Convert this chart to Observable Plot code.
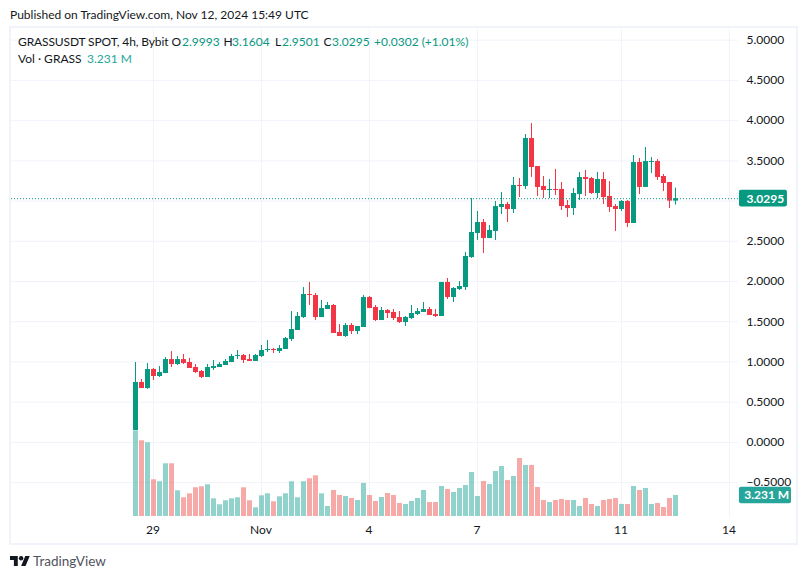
<!DOCTYPE html>
<html>
<head>
<meta charset="utf-8">
<script src="https://cdn.jsdelivr.net/npm/d3@7"></script>
<script src="https://cdn.jsdelivr.net/npm/@observablehq/plot@0.6"></script>
<style>
html,body{margin:0;padding:0;background:#fff;}
#page{position:relative;width:808px;height:579px;overflow:hidden;font-family:"Lato",sans-serif;color:#131722;font-size:12px;}
#pub{position:absolute;left:10px;top:6px;line-height:17px;}
#chart{position:absolute;left:0;top:27px;}
#frame{position:absolute;left:9px;top:26px;width:785px;height:515px;border:2px solid #f0f3fa;}
.lg{position:absolute;white-space:pre;line-height:16px;}
#foot{position:absolute;left:33px;top:552px;font-size:13.5px;line-height:19px;color:#50535e;}
#logo{position:absolute;left:10px;top:556px;}
</style>
</head>
<body>
<div id="page">
<div id="pub"></div>
<div id="frame"></div>
<div id="chart"></div>
<div id="legend"></div>
<svg id="logo" width="20" height="10" viewBox="0 4 36 18"><path fill="#131722" d="M14 22H7V11H0V4h14v18zM28 22h-8l7.5-18h8L28 22z"/><circle fill="#131722" cx="20" cy="8" r="4"/></svg>
<div id="foot">TradingView</div>
</div>
<script>
const opens = [.148,.745,.670,.906,.819,.856,1.030,.968,1.030,.993,.931,.881,.807,.919,.931,.956,.993,1.068,1.080,1.030,1.006,1.068,1.142,1.155,1.130,1.155,1.279,1.391,1.552,1.838,1.826,1.552,1.652,1.702,1.366,1.316,1.453,1.378,1.428,1.801,1.677,1.515,1.639,1.615,1.552,1.490,1.540,1.590,1.615,1.652,1.590,1.565,1.988,1.801,1.901,1.925,2.298,2.597,2.733,2.535,2.622,2.920,2.957,2.895,3.194,3.181,3.777,3.429,3.181,3.131,3.144,3.144,2.945,2.907,3.082,3.293,3.280,3.094,3.268,3.057,2.932,2.895,2.995,2.721,3.479,3.169,3.479,3.491,3.305,3.231,2.9993];
const highs = [.993,.782,.981,.919,.943,1.055,1.130,1.068,1.093,1.043,.968,.894,.968,1.018,.993,1.030,1.093,1.142,1.093,1.093,1.093,1.204,1.267,1.167,1.204,1.304,1.627,1.615,1.925,1.988,1.851,1.764,1.739,1.714,1.465,1.478,1.478,1.441,1.826,1.814,1.702,1.677,1.652,1.652,1.627,1.565,1.702,1.664,1.739,1.677,1.652,1.988,2.037,1.925,2.000,2.360,3.032,2.870,2.771,2.696,2.995,3.106,2.982,3.293,3.280,3.827,3.964,3.429,3.305,3.268,3.392,3.231,3.007,3.156,3.355,3.380,3.293,3.355,3.355,3.243,2.957,3.007,3.007,3.566,3.529,3.665,3.541,3.516,3.330,3.231,3.1604];
const lows = [.148,.670,.658,.769,.807,.856,.931,.956,.968,.919,.856,.794,.807,.894,.931,.956,.993,1.030,.981,1.006,1.006,1.055,1.117,1.105,1.105,1.155,1.254,1.391,1.540,1.702,1.515,1.552,1.652,1.354,1.316,1.304,1.341,1.341,1.428,1.664,1.503,1.515,1.540,1.515,1.478,1.441,1.527,1.577,1.615,1.577,1.552,1.565,1.776,1.739,1.888,1.888,2.286,2.510,2.348,2.535,2.510,2.833,2.733,2.846,3.044,3.144,3.293,3.057,3.032,3.032,3.069,2.883,2.796,2.821,3.007,3.057,3.082,3.032,2.957,2.858,2.622,2.870,2.671,2.721,3.082,3.169,3.342,3.256,3.119,2.907,2.9501];
const closes = [.745,.670,.906,.819,.869,1.030,.968,1.030,.981,.919,.869,.807,.931,.943,.968,1.006,1.068,1.080,1.018,1.006,1.080,1.142,1.155,1.142,1.167,1.291,1.403,1.565,1.838,1.826,1.552,1.664,1.702,1.354,1.316,1.453,1.378,1.441,1.801,1.664,1.515,1.639,1.602,1.540,1.490,1.552,1.602,1.627,1.652,1.577,1.565,1.988,1.801,1.913,1.938,2.311,2.609,2.733,2.535,2.634,2.932,2.957,2.895,3.194,3.181,3.777,3.417,3.169,3.131,3.144,3.131,2.932,2.907,3.094,3.293,3.268,3.094,3.268,3.044,2.920,2.895,2.995,2.721,3.479,3.169,3.491,3.491,3.293,3.218,2.9993,3.0295];
const volumesM = [13.18,11.65,11.34,5.65,5.34,8.11,8.11,3.95,2.88,3.49,4.42,4.57,4.88,2.72,1.80,2.42,2.72,2.88,4.42,2.42,1.34,3.18,3.49,2.26,3.03,3.49,5.34,2.88,5.34,5.80,6.26,3.49,1.54,4.00,3.23,3.08,2.77,2.46,5.08,3.23,2.31,2.92,3.54,3.23,2.00,1.85,2.31,2.77,4.00,2.15,2.15,4.62,4.15,3.69,4.31,4.77,6.77,3.08,5.38,4.92,6.92,7.69,5.54,6.15,8.92,7.85,7.85,4.46,2.46,2.15,2.46,2.62,2.46,2.46,1.54,2.77,1.85,1.54,2.46,2.62,2.77,1.85,1.85,4.62,4.00,4.31,1.85,2.00,1.38,2.77,3.231];
const gridTicks = [-0.5,0,0.5,1,1.5,2,2.5,3,3.5,4,4.5,5];
const yLabelTicks = [-0.5,0,0.5,1,1.5,2,2.5,3.5,4,4.5,5];
const xTickDates = ["2024-10-29","2024-11-01","2024-11-04","2024-11-07","2024-11-11","2024-11-14"];
const xTickLabels = ["29","Nov","4","7","11","14"];
const lastPrice = 3.0295, lastVolume = 3.231;
const legendRow1 = [["GRASSUSDT SPOT, 4h, Bybit",18,0],["O",171.5,0],["2.9993",182,1],["H",223.5,0],["3.1604",232,1],["L",275,0],["2.9501",282,1],["C",323.5,0],["3.0295",332,1],["+0.0302 (+1.01%)",374,1]];
const legendRow2 = [["Vol · GRASS",18,0],["3.231 M",87,2]];

const UP="#089981", DOWN="#f23645", VUP="#26a69a", VDOWN="#ef5350", GRID="#f0f3fa", INK="#131722";
const H=3600e3, start=Date.UTC(2024,9,28,12);
const at = h => new Date(start+h*H);
const rows = opens.map((o,i)=>({t:at(i*4),i,open:o,high:highs[i],low:lows[i],close:closes[i],vol:volumesM[i],up:closes[i]>=o}));
const volBase=-0.921, volScale=0.0808;
const volY=v=>volBase+v*volScale;
const half=5/3;
const ticks=xTickDates.map(d=>new Date(d+"T00:00:00Z"));
const tickLabel=new Map(ticks.map((t,i)=>[+t,xTickLabels[i]]));

const chart = Plot.plot({
  width:808,height:517,marginLeft:11,marginRight:70,marginTop:2,marginBottom:27,
  style:{fontFamily:'"Lato",sans-serif',fontSize:"12px",background:"transparent",color:INK},
  x:{type:"utc",domain:[at(-83),at(401.67)]},
  y:{domain:[-0.9335,5.1324]},
  color:{type:"identity"},
  marks:[
    Plot.ruleY(gridTicks,{stroke:GRID,strokeWidth:1}),
    Plot.ruleX(ticks,{stroke:GRID,strokeWidth:1,dx:-0.5}),
    Plot.rect(rows,{x1:d=>new Date(+d.t-half*H),x2:d=>new Date(+d.t+half*H),y1:()=>volBase,y2:d=>volY(d.vol),fill:d=>d.up?VUP:VDOWN,fillOpacity:0.5}),
    Plot.ruleX(rows,{x:"t",y1:"low",y2:"high",stroke:d=>d.up?UP:DOWN,strokeWidth:1,dx:-0.5}),
    Plot.rect(rows,{x1:d=>new Date(+d.t-half*H),x2:d=>new Date(+d.t+half*H),y1:"open",y2:"close",fill:d=>d.up?UP:DOWN}),
    Plot.ruleY([lastPrice],{stroke:UP,strokeWidth:1,strokeDasharray:"1,2"}),
    Plot.axisY(yLabelTicks,{anchor:"right",label:null,tickSize:0,tickPadding:8,tickFormat:d=>d3.format(".4f")(d),fill:INK,fontSize:12}),
    Plot.axisX(ticks,{anchor:"bottom",label:null,tickSize:0,tickPadding:8,dx:-1,tickFormat:d=>tickLabel.get(+d),fill:INK,fontSize:12}),
    Plot.rect([lastPrice],{x1:()=>at(402.3),x2:()=>at(434.3),y1:d=>d-0.104,y2:d=>d+0.104,fill:UP,rx:2}),
    Plot.text([lastPrice],{x:()=>at(407),y:d=>d,text:d=>d.toFixed(4),fill:"#fff",fontWeight:"bold",fontSize:12,textAnchor:"start"}),
    Plot.rect([lastVolume],{x1:()=>at(402.3),x2:()=>at(437),y1:d=>volY(d)-0.104,y2:d=>volY(d)+0.104,fill:VUP,rx:2}),
    Plot.text([lastVolume],{x:()=>at(405.5),y:volY,text:d=>d.toFixed(3)+" M",fill:"#fff",fontWeight:"bold",fontSize:12,textAnchor:"start"})
  ]
});
document.getElementById("chart").append(chart);

document.getElementById("pub").textContent="Published on TradingView.com, Nov 12, 2024 15:49 UTC";
const lg=document.getElementById("legend");
const palette=[INK,UP,VUP];
[[legendRow1,34],[legendRow2,51]].forEach(([row,top])=>row.forEach(([text,left,c],j)=>{
  const s=document.createElement("div");s.className="lg";s.textContent=text;
  s.style.left=left+"px";s.style.top=top+"px";s.style.color=palette[c];
  if(top===34&&j===0)s.style.letterSpacing="-0.12px";
  lg.append(s);
}));
</script>
</body>
</html>
